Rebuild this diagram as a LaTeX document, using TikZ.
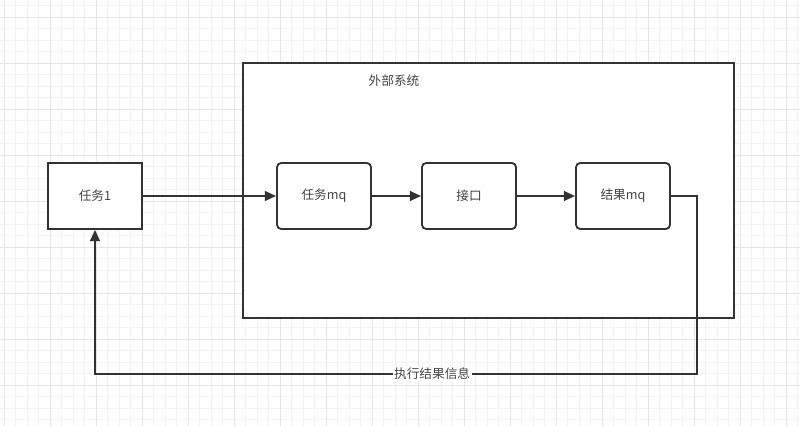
\documentclass[tikz,border=0pt]{standalone}
\usepackage{fontspec}
\setmainfont{Noto Sans CJK SC}
\usetikzlibrary{arrows.meta,positioning}
\definecolor{mline}{HTML}{333333}
\definecolor{mtext}{HTML}{444444}
\begin{document}
\begin{tikzpicture}[x=0.025cm,y=-0.025cm,font=\fontsize{9}{11}\selectfont,
    box/.style={draw=mline,line width=1.3pt,fill=white,text=mtext,inner sep=0pt,minimum width=2.35cm,minimum height=1.65cm},
    rbox/.style={box,rounded corners=3pt},
    arrow/.style={-{Triangle[length=8pt,width=7pt]},draw=mline,line width=1.3pt}]
    \useasboundingbox[fill=white] (0,0) rectangle (800,426);
    % grille de fond
    \def\mstep{11.5}
    \foreach \gx in {4,15.5,...,800} \draw[black!5,line width=0.3pt] (\gx,0)--(\gx,426);
    \foreach \gy in {5.5,17,...,426} \draw[black!5,line width=0.3pt] (0,\gy)--(800,\gy);
    \foreach \gx in {4,50,...,800} \draw[black!10,line width=0.4pt] (\gx,0)--(\gx,426);
    \foreach \gy in {17,63,...,426} \draw[black!10,line width=0.4pt] (0,\gy)--(800,\gy);
    % systeme externe
    \node[box,minimum width=12.275cm,minimum height=6.375cm] (sys) at (488.5,190.5) {};
    \node[text=mtext] (syslabel) at (394,81) {外部系统};
    % noeuds
    \node[box] (task) at (95,196) {任务1};
    \node[rbox] (taskmq) at (324,196) {任务mq};
    \node[rbox] (api) at (469,196) {接口};
    \node[rbox] (resmq) at (623,196) {结果mq};
    \coordinate (turn) at (697,374);
    % fleches
    \draw[arrow] (task) -- (taskmq);
    \draw[arrow] (taskmq) -- (api);
    \draw[arrow] (api) -- (resmq);
    \draw[arrow] (resmq.east) -- (resmq.east -| turn) -- (turn) -- node[pos=0.44,fill=white,text=mtext,inner sep=1pt] (back) {执行结果信息} (turn -| task.south) -- (task.south);
\end{tikzpicture}
\end{document}
